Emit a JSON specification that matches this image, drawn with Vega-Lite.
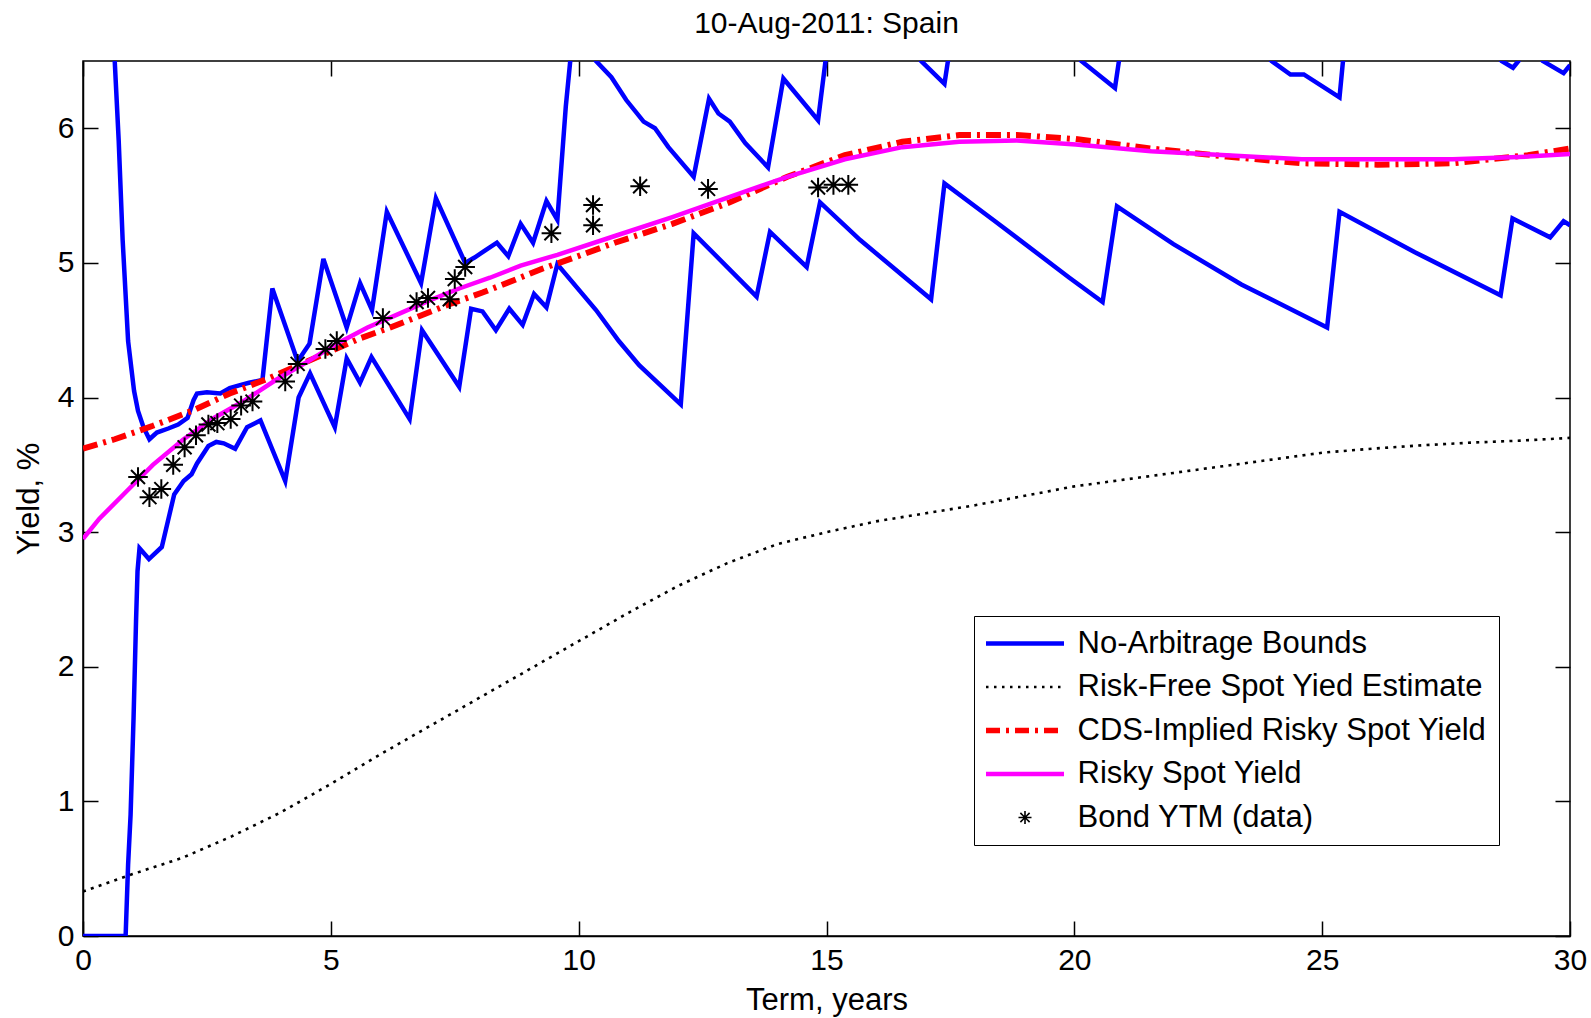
{
  "$schema": "https://vega.github.io/schema/vega-lite/v6.json",
  "width": 1487,
  "height": 875,
  "autosize": {"type": "none"},
  "padding": {"left": 83, "top": 61, "right": 21, "bottom": 82},
  "background": "white",
  "title": {"text": "10-Aug-2011: Spain", "fontSize": 30, "font": "Liberation Sans", "fontWeight": "normal", "color": "black", "anchor": "middle", "baseline": "alphabetic", "offset": -3},
  "config": {
    "view": {"stroke": "black", "strokeWidth": 1.5},
    "font": "Liberation Sans",
    "axis": {"grid": false, "domainColor": "black", "domainWidth": 1.5, "tickColor": "black", "tickWidth": 1.5, "tickSize": -15, "labelFontSize": 30, "labelColor": "black", "labelFont": "Liberation Sans", "titleFont": "Liberation Sans", "titleFontSize": 31, "titleFontWeight": "normal", "titleColor": "black", "labelFlush": false, "labelOverlap": false, "labelBound": false}
  },
  "datasets": {
    "bounds": [
      {"series": "No-Arbitrage Bounds", "part": "lower", "x": 0, "y": 0},
      {"series": "No-Arbitrage Bounds", "part": "lower", "x": 0.86, "y": 0},
      {"series": "No-Arbitrage Bounds", "part": "lower", "x": 0.91, "y": 0.53},
      {"series": "No-Arbitrage Bounds", "part": "lower", "x": 0.96, "y": 0.9},
      {"series": "No-Arbitrage Bounds", "part": "lower", "x": 1.02, "y": 1.62},
      {"series": "No-Arbitrage Bounds", "part": "lower", "x": 1.07, "y": 2.34},
      {"series": "No-Arbitrage Bounds", "part": "lower", "x": 1.1, "y": 2.71},
      {"series": "No-Arbitrage Bounds", "part": "lower", "x": 1.14, "y": 2.88},
      {"series": "No-Arbitrage Bounds", "part": "lower", "x": 1.33, "y": 2.8},
      {"series": "No-Arbitrage Bounds", "part": "lower", "x": 1.59, "y": 2.89},
      {"series": "No-Arbitrage Bounds", "part": "lower", "x": 1.84, "y": 3.28},
      {"series": "No-Arbitrage Bounds", "part": "lower", "x": 2.03, "y": 3.38},
      {"series": "No-Arbitrage Bounds", "part": "lower", "x": 2.19, "y": 3.43},
      {"series": "No-Arbitrage Bounds", "part": "lower", "x": 2.3, "y": 3.51},
      {"series": "No-Arbitrage Bounds", "part": "lower", "x": 2.53, "y": 3.64},
      {"series": "No-Arbitrage Bounds", "part": "lower", "x": 2.69, "y": 3.67},
      {"series": "No-Arbitrage Bounds", "part": "lower", "x": 2.84, "y": 3.66},
      {"series": "No-Arbitrage Bounds", "part": "lower", "x": 3.07, "y": 3.62},
      {"series": "No-Arbitrage Bounds", "part": "lower", "x": 3.31, "y": 3.78},
      {"series": "No-Arbitrage Bounds", "part": "lower", "x": 3.58, "y": 3.83},
      {"series": "No-Arbitrage Bounds", "part": "lower", "x": 4.08, "y": 3.38},
      {"series": "No-Arbitrage Bounds", "part": "lower", "x": 4.35, "y": 4.0},
      {"series": "No-Arbitrage Bounds", "part": "lower", "x": 4.58, "y": 4.18},
      {"series": "No-Arbitrage Bounds", "part": "lower", "x": 5.08, "y": 3.78},
      {"series": "No-Arbitrage Bounds", "part": "lower", "x": 5.32, "y": 4.29},
      {"series": "No-Arbitrage Bounds", "part": "lower", "x": 5.59, "y": 4.11},
      {"series": "No-Arbitrage Bounds", "part": "lower", "x": 5.82, "y": 4.3},
      {"series": "No-Arbitrage Bounds", "part": "lower", "x": 6.59, "y": 3.84},
      {"series": "No-Arbitrage Bounds", "part": "lower", "x": 6.84, "y": 4.5},
      {"series": "No-Arbitrage Bounds", "part": "lower", "x": 7.59, "y": 4.08},
      {"series": "No-Arbitrage Bounds", "part": "lower", "x": 7.83, "y": 4.66},
      {"series": "No-Arbitrage Bounds", "part": "lower", "x": 8.06, "y": 4.64},
      {"series": "No-Arbitrage Bounds", "part": "lower", "x": 8.33, "y": 4.5},
      {"series": "No-Arbitrage Bounds", "part": "lower", "x": 8.6, "y": 4.66},
      {"series": "No-Arbitrage Bounds", "part": "lower", "x": 8.87, "y": 4.54},
      {"series": "No-Arbitrage Bounds", "part": "lower", "x": 9.1, "y": 4.77},
      {"series": "No-Arbitrage Bounds", "part": "lower", "x": 9.35, "y": 4.67},
      {"series": "No-Arbitrage Bounds", "part": "lower", "x": 9.57, "y": 4.99},
      {"series": "No-Arbitrage Bounds", "part": "lower", "x": 10.35, "y": 4.65},
      {"series": "No-Arbitrage Bounds", "part": "lower", "x": 10.81, "y": 4.42},
      {"series": "No-Arbitrage Bounds", "part": "lower", "x": 11.22, "y": 4.24},
      {"series": "No-Arbitrage Bounds", "part": "lower", "x": 12.06, "y": 3.95},
      {"series": "No-Arbitrage Bounds", "part": "lower", "x": 12.32, "y": 5.22},
      {"series": "No-Arbitrage Bounds", "part": "lower", "x": 13.59, "y": 4.75},
      {"series": "No-Arbitrage Bounds", "part": "lower", "x": 13.86, "y": 5.23},
      {"series": "No-Arbitrage Bounds", "part": "lower", "x": 14.6, "y": 4.97},
      {"series": "No-Arbitrage Bounds", "part": "lower", "x": 14.87, "y": 5.45},
      {"series": "No-Arbitrage Bounds", "part": "lower", "x": 15.68, "y": 5.17},
      {"series": "No-Arbitrage Bounds", "part": "lower", "x": 17.11, "y": 4.73},
      {"series": "No-Arbitrage Bounds", "part": "lower", "x": 17.38, "y": 5.59},
      {"series": "No-Arbitrage Bounds", "part": "lower", "x": 18.4, "y": 5.31},
      {"series": "No-Arbitrage Bounds", "part": "lower", "x": 19.9, "y": 4.89},
      {"series": "No-Arbitrage Bounds", "part": "lower", "x": 20.57, "y": 4.71},
      {"series": "No-Arbitrage Bounds", "part": "lower", "x": 20.86, "y": 5.42},
      {"series": "No-Arbitrage Bounds", "part": "lower", "x": 22.0, "y": 5.14},
      {"series": "No-Arbitrage Bounds", "part": "lower", "x": 23.37, "y": 4.84},
      {"series": "No-Arbitrage Bounds", "part": "lower", "x": 25.1, "y": 4.52},
      {"series": "No-Arbitrage Bounds", "part": "lower", "x": 25.35, "y": 5.38},
      {"series": "No-Arbitrage Bounds", "part": "lower", "x": 26.87, "y": 5.08},
      {"series": "No-Arbitrage Bounds", "part": "lower", "x": 28.6, "y": 4.76},
      {"series": "No-Arbitrage Bounds", "part": "lower", "x": 28.84, "y": 5.33},
      {"series": "No-Arbitrage Bounds", "part": "lower", "x": 29.6, "y": 5.19},
      {"series": "No-Arbitrage Bounds", "part": "lower", "x": 29.87, "y": 5.31},
      {"series": "No-Arbitrage Bounds", "part": "lower", "x": 30.0, "y": 5.28},
      {"series": "No-Arbitrage Bounds", "part": "upper", "x": 0.55, "y": 7.2},
      {"series": "No-Arbitrage Bounds", "part": "upper", "x": 0.64, "y": 6.5},
      {"series": "No-Arbitrage Bounds", "part": "upper", "x": 0.72, "y": 5.91},
      {"series": "No-Arbitrage Bounds", "part": "upper", "x": 0.8, "y": 5.17},
      {"series": "No-Arbitrage Bounds", "part": "upper", "x": 0.91, "y": 4.42},
      {"series": "No-Arbitrage Bounds", "part": "upper", "x": 1.03, "y": 4.05},
      {"series": "No-Arbitrage Bounds", "part": "upper", "x": 1.11, "y": 3.9},
      {"series": "No-Arbitrage Bounds", "part": "upper", "x": 1.22, "y": 3.78},
      {"series": "No-Arbitrage Bounds", "part": "upper", "x": 1.34, "y": 3.69},
      {"series": "No-Arbitrage Bounds", "part": "upper", "x": 1.49, "y": 3.74},
      {"series": "No-Arbitrage Bounds", "part": "upper", "x": 1.72, "y": 3.77},
      {"series": "No-Arbitrage Bounds", "part": "upper", "x": 1.92, "y": 3.8},
      {"series": "No-Arbitrage Bounds", "part": "upper", "x": 2.11, "y": 3.85},
      {"series": "No-Arbitrage Bounds", "part": "upper", "x": 2.23, "y": 3.98},
      {"series": "No-Arbitrage Bounds", "part": "upper", "x": 2.3, "y": 4.03},
      {"series": "No-Arbitrage Bounds", "part": "upper", "x": 2.5, "y": 4.04},
      {"series": "No-Arbitrage Bounds", "part": "upper", "x": 2.77, "y": 4.03},
      {"series": "No-Arbitrage Bounds", "part": "upper", "x": 2.96, "y": 4.07},
      {"series": "No-Arbitrage Bounds", "part": "upper", "x": 3.15, "y": 4.09},
      {"series": "No-Arbitrage Bounds", "part": "upper", "x": 3.35, "y": 4.11},
      {"series": "No-Arbitrage Bounds", "part": "upper", "x": 3.62, "y": 4.13},
      {"series": "No-Arbitrage Bounds", "part": "upper", "x": 3.82, "y": 4.81},
      {"series": "No-Arbitrage Bounds", "part": "upper", "x": 4.33, "y": 4.27},
      {"series": "No-Arbitrage Bounds", "part": "upper", "x": 4.57, "y": 4.4},
      {"series": "No-Arbitrage Bounds", "part": "upper", "x": 4.85, "y": 5.03},
      {"series": "No-Arbitrage Bounds", "part": "upper", "x": 5.32, "y": 4.52},
      {"series": "No-Arbitrage Bounds", "part": "upper", "x": 5.59, "y": 4.85},
      {"series": "No-Arbitrage Bounds", "part": "upper", "x": 5.83, "y": 4.65},
      {"series": "No-Arbitrage Bounds", "part": "upper", "x": 6.13, "y": 5.38},
      {"series": "No-Arbitrage Bounds", "part": "upper", "x": 6.82, "y": 4.85},
      {"series": "No-Arbitrage Bounds", "part": "upper", "x": 7.12, "y": 5.48},
      {"series": "No-Arbitrage Bounds", "part": "upper", "x": 7.71, "y": 5.0},
      {"series": "No-Arbitrage Bounds", "part": "upper", "x": 7.9, "y": 5.04},
      {"series": "No-Arbitrage Bounds", "part": "upper", "x": 8.1, "y": 5.09},
      {"series": "No-Arbitrage Bounds", "part": "upper", "x": 8.35, "y": 5.15},
      {"series": "No-Arbitrage Bounds", "part": "upper", "x": 8.58, "y": 5.05},
      {"series": "No-Arbitrage Bounds", "part": "upper", "x": 8.83, "y": 5.29},
      {"series": "No-Arbitrage Bounds", "part": "upper", "x": 9.08, "y": 5.15},
      {"series": "No-Arbitrage Bounds", "part": "upper", "x": 9.35, "y": 5.46},
      {"series": "No-Arbitrage Bounds", "part": "upper", "x": 9.57, "y": 5.32},
      {"series": "No-Arbitrage Bounds", "part": "upper", "x": 9.74, "y": 6.16},
      {"series": "No-Arbitrage Bounds", "part": "upper", "x": 9.83, "y": 6.5},
      {"series": "No-Arbitrage Bounds", "part": "upper", "x": 10.1, "y": 7.3},
      {"series": "No-Arbitrage Bounds", "part": "upper", "x": 10.35, "y": 6.5},
      {"series": "No-Arbitrage Bounds", "part": "upper", "x": 10.66, "y": 6.38},
      {"series": "No-Arbitrage Bounds", "part": "upper", "x": 10.96, "y": 6.21},
      {"series": "No-Arbitrage Bounds", "part": "upper", "x": 11.31, "y": 6.05},
      {"series": "No-Arbitrage Bounds", "part": "upper", "x": 11.54, "y": 6.0},
      {"series": "No-Arbitrage Bounds", "part": "upper", "x": 11.81, "y": 5.86},
      {"series": "No-Arbitrage Bounds", "part": "upper", "x": 12.32, "y": 5.64},
      {"series": "No-Arbitrage Bounds", "part": "upper", "x": 12.63, "y": 6.22},
      {"series": "No-Arbitrage Bounds", "part": "upper", "x": 12.82, "y": 6.11},
      {"series": "No-Arbitrage Bounds", "part": "upper", "x": 13.05, "y": 6.05},
      {"series": "No-Arbitrage Bounds", "part": "upper", "x": 13.36, "y": 5.89},
      {"series": "No-Arbitrage Bounds", "part": "upper", "x": 13.82, "y": 5.71},
      {"series": "No-Arbitrage Bounds", "part": "upper", "x": 14.13, "y": 6.37},
      {"series": "No-Arbitrage Bounds", "part": "upper", "x": 14.83, "y": 6.06},
      {"series": "No-Arbitrage Bounds", "part": "upper", "x": 14.98, "y": 6.5},
      {"series": "No-Arbitrage Bounds", "part": "upper", "x": 15.6, "y": 7.3},
      {"series": "No-Arbitrage Bounds", "part": "upper", "x": 16.91, "y": 6.5},
      {"series": "No-Arbitrage Bounds", "part": "upper", "x": 17.38, "y": 6.33},
      {"series": "No-Arbitrage Bounds", "part": "upper", "x": 17.45, "y": 6.5},
      {"series": "No-Arbitrage Bounds", "part": "upper", "x": 18.7, "y": 7.2},
      {"series": "No-Arbitrage Bounds", "part": "upper", "x": 20.14, "y": 6.5},
      {"series": "No-Arbitrage Bounds", "part": "upper", "x": 20.82, "y": 6.3},
      {"series": "No-Arbitrage Bounds", "part": "upper", "x": 20.9, "y": 6.5},
      {"series": "No-Arbitrage Bounds", "part": "upper", "x": 22.4, "y": 7.2},
      {"series": "No-Arbitrage Bounds", "part": "upper", "x": 23.98, "y": 6.5},
      {"series": "No-Arbitrage Bounds", "part": "upper", "x": 24.36, "y": 6.4},
      {"series": "No-Arbitrage Bounds", "part": "upper", "x": 24.63, "y": 6.4},
      {"series": "No-Arbitrage Bounds", "part": "upper", "x": 25.35, "y": 6.23},
      {"series": "No-Arbitrage Bounds", "part": "upper", "x": 25.42, "y": 6.5},
      {"series": "No-Arbitrage Bounds", "part": "upper", "x": 27.0, "y": 7.2},
      {"series": "No-Arbitrage Bounds", "part": "upper", "x": 28.62, "y": 6.5},
      {"series": "No-Arbitrage Bounds", "part": "upper", "x": 28.85, "y": 6.45},
      {"series": "No-Arbitrage Bounds", "part": "upper", "x": 28.96, "y": 6.5},
      {"series": "No-Arbitrage Bounds", "part": "upper", "x": 29.2, "y": 6.7},
      {"series": "No-Arbitrage Bounds", "part": "upper", "x": 29.45, "y": 6.5},
      {"series": "No-Arbitrage Bounds", "part": "upper", "x": 29.87, "y": 6.41},
      {"series": "No-Arbitrage Bounds", "part": "upper", "x": 30.0, "y": 6.47}
    ],
    "riskfree": [
      {"series": "Risk-Free Spot Yied Estimate", "x": 0, "y": 0.33},
      {"series": "Risk-Free Spot Yied Estimate", "x": 1, "y": 0.46},
      {"series": "Risk-Free Spot Yied Estimate", "x": 2, "y": 0.58},
      {"series": "Risk-Free Spot Yied Estimate", "x": 3, "y": 0.74},
      {"series": "Risk-Free Spot Yied Estimate", "x": 4, "y": 0.92},
      {"series": "Risk-Free Spot Yied Estimate", "x": 5, "y": 1.13},
      {"series": "Risk-Free Spot Yied Estimate", "x": 6, "y": 1.35},
      {"series": "Risk-Free Spot Yied Estimate", "x": 7, "y": 1.56},
      {"series": "Risk-Free Spot Yied Estimate", "x": 8, "y": 1.77},
      {"series": "Risk-Free Spot Yied Estimate", "x": 9, "y": 1.98},
      {"series": "Risk-Free Spot Yied Estimate", "x": 10, "y": 2.19},
      {"series": "Risk-Free Spot Yied Estimate", "x": 11, "y": 2.4},
      {"series": "Risk-Free Spot Yied Estimate", "x": 12, "y": 2.6},
      {"series": "Risk-Free Spot Yied Estimate", "x": 13, "y": 2.77},
      {"series": "Risk-Free Spot Yied Estimate", "x": 14, "y": 2.91},
      {"series": "Risk-Free Spot Yied Estimate", "x": 15, "y": 3.0},
      {"series": "Risk-Free Spot Yied Estimate", "x": 16, "y": 3.08},
      {"series": "Risk-Free Spot Yied Estimate", "x": 17, "y": 3.14},
      {"series": "Risk-Free Spot Yied Estimate", "x": 18, "y": 3.2},
      {"series": "Risk-Free Spot Yied Estimate", "x": 19, "y": 3.27},
      {"series": "Risk-Free Spot Yied Estimate", "x": 20, "y": 3.34},
      {"series": "Risk-Free Spot Yied Estimate", "x": 21, "y": 3.39},
      {"series": "Risk-Free Spot Yied Estimate", "x": 22, "y": 3.44},
      {"series": "Risk-Free Spot Yied Estimate", "x": 23, "y": 3.49},
      {"series": "Risk-Free Spot Yied Estimate", "x": 24, "y": 3.54},
      {"series": "Risk-Free Spot Yied Estimate", "x": 25, "y": 3.59},
      {"series": "Risk-Free Spot Yied Estimate", "x": 26, "y": 3.62},
      {"series": "Risk-Free Spot Yied Estimate", "x": 27, "y": 3.645},
      {"series": "Risk-Free Spot Yied Estimate", "x": 28, "y": 3.665},
      {"series": "Risk-Free Spot Yied Estimate", "x": 29, "y": 3.68},
      {"series": "Risk-Free Spot Yied Estimate", "x": 30, "y": 3.7}
    ],
    "cds": [
      {"series": "CDS-Implied Risky Spot Yield", "x": 0, "y": 3.62},
      {"series": "CDS-Implied Risky Spot Yield", "x": 0.64, "y": 3.69},
      {"series": "CDS-Implied Risky Spot Yield", "x": 1.41, "y": 3.79},
      {"series": "CDS-Implied Risky Spot Yield", "x": 2.19, "y": 3.9},
      {"series": "CDS-Implied Risky Spot Yield", "x": 2.96, "y": 4.03},
      {"series": "CDS-Implied Risky Spot Yield", "x": 3.73, "y": 4.14},
      {"series": "CDS-Implied Risky Spot Yield", "x": 4.35, "y": 4.24},
      {"series": "CDS-Implied Risky Spot Yield", "x": 4.97, "y": 4.34},
      {"series": "CDS-Implied Risky Spot Yield", "x": 5.59, "y": 4.44},
      {"series": "CDS-Implied Risky Spot Yield", "x": 6.2, "y": 4.52},
      {"series": "CDS-Implied Risky Spot Yield", "x": 6.82, "y": 4.61},
      {"series": "CDS-Implied Risky Spot Yield", "x": 7.44, "y": 4.7},
      {"series": "CDS-Implied Risky Spot Yield", "x": 8.06, "y": 4.78},
      {"series": "CDS-Implied Risky Spot Yield", "x": 8.68, "y": 4.87},
      {"series": "CDS-Implied Risky Spot Yield", "x": 9.29, "y": 4.96},
      {"series": "CDS-Implied Risky Spot Yield", "x": 9.91, "y": 5.04},
      {"series": "CDS-Implied Risky Spot Yield", "x": 10.73, "y": 5.15},
      {"series": "CDS-Implied Risky Spot Yield", "x": 11.89, "y": 5.29},
      {"series": "CDS-Implied Risky Spot Yield", "x": 13.05, "y": 5.45},
      {"series": "CDS-Implied Risky Spot Yield", "x": 14.21, "y": 5.64},
      {"series": "CDS-Implied Risky Spot Yield", "x": 15.37, "y": 5.8},
      {"series": "CDS-Implied Risky Spot Yield", "x": 16.53, "y": 5.9},
      {"series": "CDS-Implied Risky Spot Yield", "x": 17.68, "y": 5.95},
      {"series": "CDS-Implied Risky Spot Yield", "x": 18.84, "y": 5.95},
      {"series": "CDS-Implied Risky Spot Yield", "x": 20.03, "y": 5.92},
      {"series": "CDS-Implied Risky Spot Yield", "x": 21.55, "y": 5.85},
      {"series": "CDS-Implied Risky Spot Yield", "x": 23.07, "y": 5.79},
      {"series": "CDS-Implied Risky Spot Yield", "x": 24.59, "y": 5.74},
      {"series": "CDS-Implied Risky Spot Yield", "x": 26.11, "y": 5.73},
      {"series": "CDS-Implied Risky Spot Yield", "x": 27.63, "y": 5.74},
      {"series": "CDS-Implied Risky Spot Yield", "x": 29.15, "y": 5.8},
      {"series": "CDS-Implied Risky Spot Yield", "x": 30, "y": 5.85}
    ],
    "risky": [
      {"series": "Risky Spot Yield", "x": 0, "y": 2.95},
      {"series": "Risky Spot Yield", "x": 0.33, "y": 3.1},
      {"series": "Risky Spot Yield", "x": 0.87, "y": 3.3},
      {"series": "Risky Spot Yield", "x": 1.41, "y": 3.5},
      {"series": "Risky Spot Yield", "x": 2.03, "y": 3.69},
      {"series": "Risky Spot Yield", "x": 2.65, "y": 3.85},
      {"series": "Risky Spot Yield", "x": 3.27, "y": 3.98},
      {"series": "Risky Spot Yield", "x": 3.89, "y": 4.13},
      {"series": "Risky Spot Yield", "x": 4.5, "y": 4.26},
      {"series": "Risky Spot Yield", "x": 5.12, "y": 4.4},
      {"series": "Risky Spot Yield", "x": 5.74, "y": 4.52},
      {"series": "Risky Spot Yield", "x": 6.36, "y": 4.62},
      {"series": "Risky Spot Yield", "x": 6.98, "y": 4.72},
      {"series": "Risky Spot Yield", "x": 7.59, "y": 4.81},
      {"series": "Risky Spot Yield", "x": 8.21, "y": 4.89},
      {"series": "Risky Spot Yield", "x": 8.83, "y": 4.98},
      {"series": "Risky Spot Yield", "x": 9.57, "y": 5.06},
      {"series": "Risky Spot Yield", "x": 10.73, "y": 5.2},
      {"series": "Risky Spot Yield", "x": 11.89, "y": 5.34},
      {"series": "Risky Spot Yield", "x": 13.05, "y": 5.49},
      {"series": "Risky Spot Yield", "x": 14.21, "y": 5.64},
      {"series": "Risky Spot Yield", "x": 15.37, "y": 5.77},
      {"series": "Risky Spot Yield", "x": 16.53, "y": 5.86},
      {"series": "Risky Spot Yield", "x": 17.68, "y": 5.9},
      {"series": "Risky Spot Yield", "x": 18.84, "y": 5.91},
      {"series": "Risky Spot Yield", "x": 20.03, "y": 5.88},
      {"series": "Risky Spot Yield", "x": 21.55, "y": 5.83},
      {"series": "Risky Spot Yield", "x": 23.07, "y": 5.8},
      {"series": "Risky Spot Yield", "x": 24.59, "y": 5.77},
      {"series": "Risky Spot Yield", "x": 26.11, "y": 5.77},
      {"series": "Risky Spot Yield", "x": 27.63, "y": 5.77},
      {"series": "Risky Spot Yield", "x": 29.15, "y": 5.79},
      {"series": "Risky Spot Yield", "x": 30, "y": 5.81}
    ],
    "bonds": [
      {"series": "Bond YTM (data)", "x": 1.11, "y": 3.41},
      {"series": "Bond YTM (data)", "x": 1.34, "y": 3.26},
      {"series": "Bond YTM (data)", "x": 1.58, "y": 3.32},
      {"series": "Bond YTM (data)", "x": 1.82, "y": 3.5},
      {"series": "Bond YTM (data)", "x": 2.05, "y": 3.63},
      {"series": "Bond YTM (data)", "x": 2.28, "y": 3.72},
      {"series": "Bond YTM (data)", "x": 2.53, "y": 3.8},
      {"series": "Bond YTM (data)", "x": 2.71, "y": 3.81},
      {"series": "Bond YTM (data)", "x": 2.98, "y": 3.84},
      {"series": "Bond YTM (data)", "x": 3.19, "y": 3.94},
      {"series": "Bond YTM (data)", "x": 3.42, "y": 3.97},
      {"series": "Bond YTM (data)", "x": 4.08, "y": 4.12},
      {"series": "Bond YTM (data)", "x": 4.33, "y": 4.25},
      {"series": "Bond YTM (data)", "x": 4.89, "y": 4.36},
      {"series": "Bond YTM (data)", "x": 5.12, "y": 4.42},
      {"series": "Bond YTM (data)", "x": 6.05, "y": 4.59},
      {"series": "Bond YTM (data)", "x": 6.73, "y": 4.71},
      {"series": "Bond YTM (data)", "x": 6.96, "y": 4.74},
      {"series": "Bond YTM (data)", "x": 7.4, "y": 4.73},
      {"series": "Bond YTM (data)", "x": 7.5, "y": 4.88},
      {"series": "Bond YTM (data)", "x": 7.71, "y": 4.97},
      {"series": "Bond YTM (data)", "x": 9.45, "y": 5.22},
      {"series": "Bond YTM (data)", "x": 10.29, "y": 5.43},
      {"series": "Bond YTM (data)", "x": 10.29, "y": 5.28},
      {"series": "Bond YTM (data)", "x": 11.24, "y": 5.57},
      {"series": "Bond YTM (data)", "x": 12.61, "y": 5.55},
      {"series": "Bond YTM (data)", "x": 14.83, "y": 5.56},
      {"series": "Bond YTM (data)", "x": 15.14, "y": 5.58},
      {"series": "Bond YTM (data)", "x": 15.44, "y": 5.58}
    ]
  },
  "layer": [
    {
      "data": {"name": "bounds"},
      "mark": {"type": "line", "clip": true, "strokeWidth": 4.5, "strokeJoin": "miter"},
      "encoding": {
        "x": {"field": "x", "type": "quantitative", "scale": {"domain": [0, 30], "nice": false, "zero": false}, "axis": {"values": [0, 5, 10, 15, 20, 25, 30], "title": "Term, years", "labelPadding": 24, "titlePadding": 10}},
        "y": {"field": "y", "type": "quantitative", "scale": {"domain": [0, 6.5], "nice": false, "zero": false}, "axis": {"values": [0, 1, 2, 3, 4, 5, 6], "title": "Yield, %", "labelPadding": 24, "titlePadding": 12}},
        "color": {
          "field": "series", "type": "nominal",
          "scale": {"domain": ["No-Arbitrage Bounds", "Risk-Free Spot Yied Estimate", "CDS-Implied Risky Spot Yield", "Risky Spot Yield", "Bond YTM (data)"], "range": ["#0000ff", "#000000", "#ff0000", "#ff00ff", "#000000"]},
          "legend": {
            "title": null, "orient": "none", "legendX": 891, "legendY": 555,
            "strokeColor": "black", "fillColor": "white", "padding": 12,
            "labelFontSize": 31, "labelFont": "Liberation Sans", "labelColor": "black", "labelLimit": 800,
            "rowPadding": 11.5, "symbolOffset": 23.5, "labelOffset": 37,
            "encode": {
              "symbols": {
                "update": {
                  "shape": {"signal": "datum.value === 'Bond YTM (data)' ? 'M-0.65,0L0.65,0M0,-0.65L0,0.65M-0.46,-0.46L0.46,0.46M-0.46,0.46L0.46,-0.46' : 'M-3.9,0L3.9,0'"},
                  "size": {"value": 400},
                  "fill": {"value": "transparent"},
                  "opacity": {"value": 1},
                  "stroke": {"signal": "datum.value === 'No-Arbitrage Bounds' ? '#0000ff' : datum.value === 'CDS-Implied Risky Spot Yield' ? '#ff0000' : datum.value === 'Risky Spot Yield' ? '#ff00ff' : '#000000'"},
                  "strokeWidth": {"signal": "datum.value === 'Bond YTM (data)' ? 1.6 : datum.value === 'Risk-Free Spot Yied Estimate' ? 2.5 : datum.value === 'CDS-Implied Risky Spot Yield' ? 5.5 : 4.5"},
                  "strokeDash": {"signal": "datum.value === 'Risk-Free Spot Yied Estimate' ? [2.5, 5.5] : datum.value === 'CDS-Implied Risky Spot Yield' ? [14, 6, 3, 6] : [1, 0]"}
                }
              }
            }
          }
        },
        "detail": {"field": "part"}
      }
    },
    {
      "data": {"name": "riskfree"},
      "mark": {"type": "line", "clip": true, "strokeWidth": 2.6, "strokeDash": [3, 5.3]},
      "encoding": {
        "x": {"field": "x", "type": "quantitative", "axis": null},
        "y": {"field": "y", "type": "quantitative", "axis": null},
        "color": {"field": "series", "type": "nominal"}
      }
    },
    {
      "data": {"name": "cds"},
      "mark": {"type": "line", "clip": true, "strokeWidth": 6, "strokeDash": [15, 6, 3, 6]},
      "encoding": {
        "x": {"field": "x", "type": "quantitative", "axis": null},
        "y": {"field": "y", "type": "quantitative", "axis": null},
        "color": {"field": "series", "type": "nominal"}
      }
    },
    {
      "data": {"name": "risky"},
      "mark": {"type": "line", "clip": true, "strokeWidth": 4.5},
      "encoding": {
        "x": {"field": "x", "type": "quantitative", "axis": null},
        "y": {"field": "y", "type": "quantitative", "axis": null},
        "color": {"field": "series", "type": "nominal"}
      }
    },
    {
      "data": {"name": "bonds"},
      "mark": {"type": "point", "shape": "M-0.8,0L0.8,0M0,-0.8L0,0.8M-0.57,-0.57L0.57,0.57M-0.57,0.57L0.57,-0.57", "size": 600, "filled": false, "strokeWidth": 2, "opacity": 1},
      "encoding": {
        "x": {"field": "x", "type": "quantitative", "axis": {"orient": "top", "values": [0, 5, 10, 15, 20, 25, 30], "labels": false, "title": null, "domain": false}},
        "y": {"field": "y", "type": "quantitative", "axis": {"orient": "right", "values": [0, 1, 2, 3, 4, 5, 6], "labels": false, "title": null, "domain": false}},
        "color": {"field": "series", "type": "nominal"}
      }
    }
  ],
  "resolve": {"axis": {"x": "independent", "y": "independent"}}
}
